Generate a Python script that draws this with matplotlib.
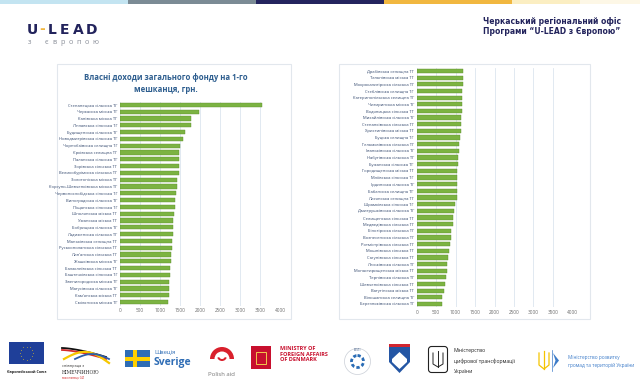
import matplotlib
matplotlib.use("Agg")
import matplotlib.pyplot as plt
from matplotlib.patches import Rectangle, Circle, Polygon, Wedge, FancyBboxPatch
import numpy as np

plt.rcParams['font.family'] = ['Open Sans', 'DejaVu Sans']

# Дані: власні доходи загального фонду на 1-го мешканця, грн.
left_names = [
    "Степанецька сільська ТГ", "Черкаська міська ТГ", "Канівська міська ТГ",
    "Ліплявська сільська ТГ", "Будищенська сільська ТГ", "Новодмитрівська сільська ТГ",
    "Чорнобаївська селищна ТГ", "Єрківська селищна ТГ", "Паланська сільська ТГ",
    "Зорівська сільська ТГ", "Великобурімська сільська ТГ", "Золотоніська міська ТГ",
    "Корсунь-Шевченківська міська ТГ", "Червонослобідська сільська ТГ",
    "Виноградська сільська ТГ", "Піщанська сільська ТГ", "Шполянська міська ТГ",
    "Уманська міська ТГ", "Бобрицька сільська ТГ", "Ладиженська сільська ТГ",
    "Маньківська селищна ТГ", "Руськополянська сільська ТГ", "Лип'янська сільська ТГ",
    "Жашківська міська ТГ", "Балаклеївська сільська ТГ", "Баштечківська сільська ТГ",
    "Звенигородська міська ТГ", "Матусівська сільська ТГ", "Кам'янська міська ТГ",
    "Смілянська міська ТГ",
]
left_values = [3550, 1975, 1775, 1780, 1625, 1585, 1500, 1485, 1480, 1475, 1470,
               1435, 1415, 1400, 1375, 1370, 1360, 1335, 1330, 1320, 1310, 1290,
               1285, 1280, 1255, 1250, 1235, 1230, 1220, 1200]

right_names = [
    "Драбівська селищна ТГ", "Тальнівська міська ТГ", "Мокрокалигірська сільська ТГ",
    "Стеблівська селищна ТГ", "Катеринопільська селищна ТГ", "Чигиринська міська ТГ",
    "Водяницька сільська ТГ", "Михайлівська сільська ТГ", "Степанківська сільська ТГ",
    "Христинівська міська ТГ", "Буцька селищна ТГ", "Гельмязівська сільська ТГ",
    "Іваньківська сільська ТГ", "Набутівська сільська ТГ", "Бужанська сільська ТГ",
    "Городищенська міська ТГ", "Мліївська сільська ТГ", "Ірдинська сільська ТГ",
    "Бабанська селищна ТГ", "Лисянська селищна ТГ", "Шрамківська сільська ТГ",
    "Дмитрушківська сільська ТГ", "Селищенська сільська ТГ", "Медведівська сільська ТГ",
    "Білозірська сільська ТГ", "Вознесенська сільська ТГ", "Ротмістрівська сільська ТГ",
    "Мошнівська сільська ТГ", "Сагунівська сільська ТГ", "Леськівська сільська ТГ",
    "Монастирищенська міська ТГ", "Тернівська сільська ТГ", "Шевченківська сільська ТГ",
    "Ватутінська міська ТГ", "Вільшанська селищна ТГ", "Березняківська сільська ТГ",
]
right_values = [1200, 1200, 1183, 1174, 1165, 1165, 1157, 1140, 1140, 1131, 1114,
                1097, 1088, 1071, 1063, 1046, 1046, 1037, 1035, 1028, 985, 968,
                943, 934, 891, 874, 857, 840, 797, 788, 771, 763, 720, 711, 651, 643]

ticks = [0, 500, 1000, 1500, 2000, 2500, 3000, 3500, 4000]

W, H = 640, 386
fig = plt.figure(figsize=(6.4, 3.86), dpi=100)

# фон і декор у піксельних координатах
bg = fig.add_axes([0, 0, 1, 1], zorder=0)
bg.set_xlim(0, W)
bg.set_ylim(H, 0)
bg.axis('off')

navy = '#22235C'

# смуга зверху
stripe = [(0, 128, '#C3E4F1'), (128, 256, '#7B8B95'), (256, 384, '#24245E'),
          (384, 512, '#F1B740'), (512, 580, '#FBEEC2'), (580, 640, '#FDF7E6')]
for x0, x1, c in stripe:
    bg.add_patch(Rectangle((x0, 0), x1 - x0, 3.5, color=c, lw=0))

# логотип U-LEAD
for ch, x, c in [("U", 27, navy), ("-", 39, '#F1B740'), ("L", 48, navy),
                 ("E", 60, navy), ("A", 72.5, navy), ("D", 86, navy)]:
    bg.text(x, 29.5, ch, fontsize=10, fontweight='bold', color=c, ha='left', va='center',
            family=['DejaVu Sans'])
for i, ch in enumerate("з європою"):
    bg.text(28 + i * 8.1, 43, ch, fontsize=5.2, color='#8A8F99', ha='left', va='center')

# заголовок справа
hdr = dict(fontsize=5.5, fontweight='bold', color=navy, ha='left', va='center',
           family=['Liberation Sans Narrow', 'DejaVu Sans'])
bg.text(483, 21, "Черкаський регіональний офіс", **hdr)
bg.text(483, 32, "Програми \u201cU-LEAD з Європою\u201d", **hdr)

# рамки діаграм
for x0, x1 in [(57, 291), (339, 590)]:
    bg.add_patch(Rectangle((x0, 64), x1 - x0, 255, fill=False, ec='#E2E7ED', lw=0.8))

bg.text(166, 78, "Власні доходи загального фонду на 1-го", fontsize=5.6,
        fontweight='bold', color='#2E5E8F', ha='center', va='center')
bg.text(166, 89, "мешканця, грн.", fontsize=5.6,
        fontweight='bold', color='#2E5E8F', ha='center', va='center')


def px_axes(x0, x1, y0, y1):
    return fig.add_axes([x0 / W, 1 - y1 / H, (x1 - x0) / W, (y1 - y0) / H], zorder=2)


def draw_chart(ax, names, values):
    y = np.arange(len(names))
    ax.barh(y, values, height=0.64, color='#7CB342', edgecolor='#5E8E2F', linewidth=0.3)
    ax.set_ylim(len(names) - 0.5, -0.5)
    ax.set_xlim(0, 4000)
    ax.set_xticks(ticks)
    ax.set_xticklabels([str(t) for t in ticks], fontsize=3.4, color='#6B6B6B')
    ax.set_yticks(y)
    ax.set_yticklabels(names, fontsize=3, color='#34496E')
    ax.tick_params(length=0, pad=2)
    ax.xaxis.grid(True, color='#DCE5EF', lw=0.6)
    ax.set_axisbelow(True)
    ax.patch.set_alpha(0)
    for s in ax.spines.values():
        s.set_visible(False)


ax1 = px_axes(120, 280, 101.5, 305.5)
draw_chart(ax1, left_names, left_values)
ax2 = px_axes(416.7, 572.3, 67.7, 307.3)
draw_chart(ax2, right_names, right_values)

# логотипи внизу (спрощено)
# ЄС
bg.add_patch(Rectangle((9, 342), 35, 22, color='#1F3F99', lw=0))
ang = np.linspace(0, 2 * np.pi, 13)[:-1]
bg.scatter(26.5 + 6.5 * np.cos(ang), 353 + 6.5 * np.sin(ang), s=1.0, marker='*',
           color='#FFD617', lw=0)
bg.text(26.5, 372, "Європейський Союз", fontsize=2.7, fontweight='bold',
        color='#222222', ha='center', va='center')

# Німеччина
t = np.linspace(0, 1, 30)
bg.plot(62 + 44 * t, 348 + 9 * t ** 1.5, color='#111111', lw=1.3)
bg.plot(62 + 44 * t, 350 + 9 * t ** 1.5, color='#D42B2B', lw=1.3)
bg.plot(64 + 45 * t, 359 - 9 * np.sin(np.pi * t) + 4 * t, color='#F6C700', lw=1.6)
bg.plot(75 + 34 * t, 359 - 5 * np.sin(np.pi * t), color='#2C5DA8', lw=1.3)
bg.text(62, 366, "співпраця з", fontsize=2.8, color='#333333', va='center')
bg.text(62, 372, "НІМЕЧЧИНОЮ", fontsize=3.3, color='#333333', va='center',
        family=['DejaVu Serif'])
bg.text(62, 377.5, "виконавець GIZ", fontsize=2.1, color='#D42B2B', va='center')

# Швеція
bg.add_patch(Rectangle((125, 350), 25, 17, color='#2F6DB5', lw=0))
bg.add_patch(Rectangle((132.5, 350), 4, 17, color='#FFD000', lw=0))
bg.add_patch(Rectangle((125, 356.5), 25, 4, color='#FFD000', lw=0))
bg.text(154, 352, "Швеція", fontsize=4.2, color='#2F6DB5', va='center')
bg.text(153.5, 362.5, "Sverige", fontsize=7.5, fontweight='bold', color='#2F6DB5',
        va='center')

# Polish aid
bg.add_patch(Wedge((222, 359), 12, 180, 360, width=4.5, color='#D9202C', lw=0))
bg.add_patch(Wedge((222, 356), 5, 20, 160, width=2, color='#D9202C', lw=0))
bg.text(221, 375, "Polish aid", fontsize=4.3, color='#777777', ha='center',
        va='center')

# Данія
bg.add_patch(Rectangle((251, 346), 20, 23, color='#C8102E', lw=0))
bg.add_patch(Rectangle((256, 352), 10, 12, fill=False, ec='#F2C94C', lw=0.7))
for i, line in enumerate(["MINISTRY OF", "FOREIGN AFFAIRS", "OF DENMARK"]):
    bg.text(280, 348.5 + i * 5.6, line, fontsize=4.0, fontweight='bold',
            color='#C8102E', va='center')

# Естонія
bg.add_patch(Circle((357.5, 361.5), 13, fill=False, ec='#C9CED6', lw=0.5))
bg.add_patch(Circle((357.5, 361.5), 6, fill=False, ec='#2A6CB5', lw=2.0,
                    linestyle=(0, (1.2, 0.8))))
bg.text(357.5, 350, "EESTI", fontsize=2.2, color='#2A4A7A', ha='center', va='center')

# Словенія
bg.add_patch(Polygon([(389, 344), (410, 344), (410, 362), (399.5, 373), (389, 362)],
                     closed=True, color='#2456A4', lw=0))
bg.add_patch(Polygon([(392, 359), (399.5, 352), (407, 359), (407, 362), (399.5, 369),
                      (392, 362)], closed=True, color='white', lw=0))
bg.add_patch(Polygon([(389, 344), (410, 344), (410, 346.5), (389, 346.5)],
                     closed=True, color='#D22630', lw=0))

# Мінцифри
bg.add_patch(FancyBboxPatch((429, 347), 18, 25, boxstyle="round,pad=0.5,rounding_size=3",
                            fill=False, ec='#222222', lw=0.8))
bg.plot([433, 433, 438, 443, 443], [353, 364, 367, 364, 353], color='#222222', lw=0.7)
bg.plot([438, 438], [351, 367], color='#222222', lw=0.7)
for i, line in enumerate(["Міністерство", "цифрової трансформації", "України"]):
    bg.text(454, 350.5 + i * 10.3, line, fontsize=3.7, color='#222222', va='center')

# Мінрегіон
bg.plot([539, 539, 544, 549, 549], [353, 365, 369, 365, 353], color='#F5C400', lw=0.9)
bg.plot([544, 544], [351, 369], color='#F5C400', lw=0.9)
bg.plot([552, 552], [350, 371], color='#3D7CC9', lw=0.5)
bg.add_patch(Polygon([(553, 353), (559, 360.5), (553, 368), (555.5, 360.5)],
                     closed=True, color='#3D7CC9', lw=0))
bg.text(568, 357, "Міністерство розвитку", fontsize=3.4, color='#3D7CC9', va='center')
bg.text(568, 365, "громад та територій України", fontsize=3.4, color='#3D7CC9',
        va='center')

fig.savefig("out.png", dpi=100, facecolor='white')
